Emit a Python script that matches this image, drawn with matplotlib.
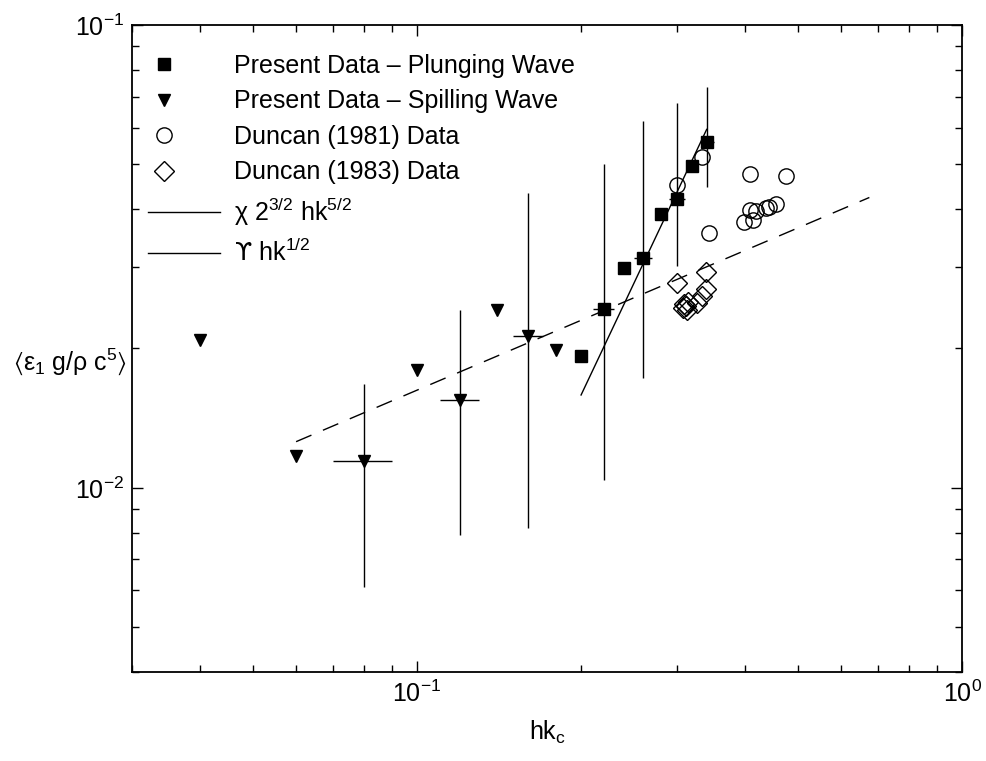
import matplotlib
matplotlib.use("Agg")
import matplotlib.pyplot as plt
from matplotlib.lines import Line2D
from matplotlib.legend_handler import HandlerLine2DCompound
import numpy as np

plt.rcParams["font.family"] = ["Liberation Sans", "DejaVu Sans"]
plt.rcParams["mathtext.fontset"] = "custom"
plt.rcParams["mathtext.rm"] = "Liberation Sans"
plt.rcParams["mathtext.it"] = "Liberation Sans:italic"
plt.rcParams["mathtext.sf"] = "DejaVu Sans"
plt.rcParams["mathtext.default"] = "regular"

# present data - plunging wave
plunge_x = [0.20, 0.22, 0.24, 0.26, 0.28, 0.30, 0.32, 0.34]
plunge_y = [0.0193, 0.0243, 0.0299, 0.0314, 0.0390, 0.0421, 0.0496, 0.0559]
# error bars on plunging (x, low, high)
plunge_err_x = [0.22, 0.26, 0.30, 0.34]
plunge_err_y = [0.0243, 0.0314, 0.0421, 0.0559]
plunge_err_lo = [0.0104, 0.0173, 0.0301, 0.0447]
plunge_err_hi = [0.0501, 0.0620, 0.0679, 0.0734]

# present data - spilling wave
spill_x = [0.04, 0.06, 0.08, 0.10, 0.12, 0.14, 0.16, 0.18]
spill_y = [0.0209, 0.0117, 0.0114, 0.0180, 0.0155, 0.0242, 0.0213, 0.0199]
spill_err_x = [0.08, 0.12, 0.16]
spill_err_y = [0.0114, 0.0155, 0.0213]
spill_err_lo = [0.00611, 0.0079, 0.0082]
spill_err_hi = [0.01676, 0.0242, 0.0433]

hk_err = 0.01

# Duncan (1981)
d81_x = [0.334, 0.300, 0.408, 0.475, 0.344, 0.398, 0.414, 0.408, 0.418, 0.436, 0.442, 0.456]
d81_y = [0.0519, 0.0451, 0.0477, 0.0472, 0.0355, 0.0376, 0.0379, 0.0398, 0.0396, 0.0402, 0.0405, 0.0410]

# Duncan (1983)
d83_x = [0.300, 0.339, 0.339, 0.333, 0.327, 0.314, 0.312, 0.309, 0.313, 0.307]
d83_y = [0.0277, 0.0293, 0.0269, 0.0260, 0.0251, 0.0252, 0.0247, 0.0250, 0.0242, 0.0245]

# model curves
chi_x = [0.20, 0.34]
chi_y = [0.01587, 0.0595]
ups_x = [0.06, 0.676]
ups_y = [0.01258, 0.0424]


class LeftMarker(HandlerLine2DCompound):
    # matlab-style legend: marker sits near the left end of the handle box
    def get_xdata(self, legend, xdescent, ydescent, width, height, fontsize):
        xdata, _ = super().get_xdata(legend, xdescent, ydescent, width, height, fontsize)
        return xdata, [-xdescent + 0.22 * width]


fig = plt.figure(figsize=(9.86, 7.61), dpi=100)
ax = fig.add_axes([0.1339, 0.1170, 0.8418, 0.8501])
ax.set_xscale("log")
ax.set_yscale("log")

yerr = [np.array(plunge_err_y) - np.array(plunge_err_lo), np.array(plunge_err_hi) - np.array(plunge_err_y)]
ax.errorbar(plunge_err_x, plunge_err_y, yerr=yerr, xerr=hk_err, fmt="none", ecolor="k", elinewidth=1.0)
yerr = [np.array(spill_err_y) - np.array(spill_err_lo), np.array(spill_err_hi) - np.array(spill_err_y)]
ax.errorbar(spill_err_x, spill_err_y, yerr=yerr, xerr=hk_err, fmt="none", ecolor="k", elinewidth=1.0)

ax.plot(chi_x, chi_y, color="k", lw=1.0)
ax.plot(ups_x, ups_y, color="k", lw=1.0, linestyle=(0, (12, 9)))

ax.plot(plunge_x, plunge_y, ls="none", marker="s", color="k", ms=9)
ax.plot(spill_x, spill_y, ls="none", marker="v", color="k", ms=9)
ax.plot(d81_x, d81_y, ls="none", marker="o", mfc="none", mec="k", mew=1.0, ms=11)
ax.plot(d83_x, d83_y, ls="none", marker="D", mfc="none", mec="k", mew=1.0, ms=10.5)

ax.set_xlim(0.03, 1)
ax.set_ylim(0.004, 0.1)

marker_handles = [
    Line2D([], [], ls="none", marker="s", color="k", ms=9),
    Line2D([], [], ls="none", marker="v", color="k", ms=9),
    Line2D([], [], ls="none", marker="o", mfc="none", mec="k", ms=11),
    Line2D([], [], ls="none", marker="D", mfc="none", mec="k", ms=10.5),
]
handles = marker_handles + [
    Line2D([], [], color="k", lw=1.0),
    Line2D([], [], color="k", lw=1.0),
]
labels = [
    "Present Data \u2013 Plunging Wave",
    "Present Data \u2013 Spilling Wave",
    "Duncan (1981) Data",
    "Duncan (1983) Data",
    r"χ $2^{3/2}$ hk$^{5/2}$",
    r"$\mathsf{ϒ}$ hk$^{1/2}$",
]
ax.legend(handles, labels, loc="upper left", bbox_to_anchor=(-0.0155, 1.0), frameon=False,
          fontsize=18, handlelength=2.9, handletextpad=0.55, labelspacing=0.46,
          borderaxespad=0.75, borderpad=0.4,
          handler_map={h: LeftMarker(numpoints=1) for h in marker_handles})

ax.tick_params(which="both", direction="in", top=True, right=True, labelsize=18, width=1.0)
ax.tick_params(which="major", length=8, pad=6)
ax.tick_params(which="minor", length=5)
for s in ax.spines.values():
    s.set_linewidth(1.3)

ax.set_xlabel(r"hk$_c$", fontsize=18)
ax.xaxis.set_label_coords(0.5, -0.094)
ax.xaxis.label.set_va("center")
ax.set_ylabel(r"$\langle\varepsilon_1\ g/\rho\ c^5\rangle$", fontsize=18, rotation=0)
ax.yaxis.set_label_coords(-0.0745, 0.48)
ax.yaxis.label.set_va("center")
ax.yaxis.label.set_ha("center")

fig.savefig("out.png", dpi=100)
